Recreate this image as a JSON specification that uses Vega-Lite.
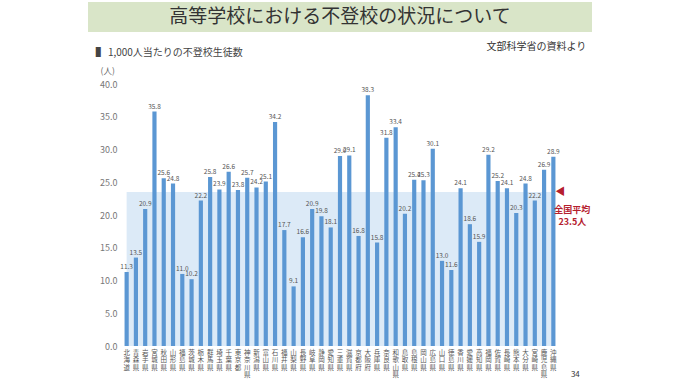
{
"$schema": "https://vega.github.io/schema/vega-lite/v6.json",
"background": "white",
"padding": {"left": 88, "top": 2, "right": 5, "bottom": 2},
"config": {
 "font": "Noto Sans CJK JP",
 "view": {"stroke": null},
 "axisY": {"title": null, "domain": false, "ticks": false, "grid": false, "labelColor": "#777777", "labelFontSize": 9, "labelPadding": 5, "labelOverlap": false, "labelSeparation": 0, "tickCount": 9},
 "axisX": {"title": null, "labelAngle": 0, "labelFontSize": 6.5, "labelLineHeight": 7.6, "labelColor": "#555555", "domain": false, "ticks": false, "labelPadding": 3, "labelBaseline": "top", "labelOverlap": false}
},
"bounds": "flush",
"center": true,
"spacing": 52,
"vconcat": [
{
 "width": 504, "height": 30,
 "view": {"fill": "#d9e5c8", "stroke": null},
 "data": {"values": [{"t": "高等学校における不登校の状況について"}]},
 "mark": {"type": "text", "fontSize": 19, "color": "#333333", "baseline": "middle"},
 "encoding": {"text": {"field": "t"}}
},
{
 "width": 436, "height": 262,
 "data": {"values": [
  {"pref": "北海道", "v": 11.3}, {"pref": "青森県", "v": 13.5}, {"pref": "岩手県", "v": 20.9}, {"pref": "宮城県", "v": 35.8},
  {"pref": "秋田県", "v": 25.6}, {"pref": "山形県", "v": 24.8}, {"pref": "福島県", "v": 11.0}, {"pref": "茨城県", "v": 10.2},
  {"pref": "栃木県", "v": 22.2}, {"pref": "群馬県", "v": 25.8}, {"pref": "埼玉県", "v": 23.9}, {"pref": "千葉県", "v": 26.6},
  {"pref": "東京都", "v": 23.8}, {"pref": "神奈川県", "v": 25.7}, {"pref": "新潟県", "v": 24.2}, {"pref": "富山県", "v": 25.1},
  {"pref": "石川県", "v": 34.2}, {"pref": "福井県", "v": 17.7}, {"pref": "山梨県", "v": 9.1}, {"pref": "長野県", "v": 16.6},
  {"pref": "岐阜県", "v": 20.9}, {"pref": "静岡県", "v": 19.8}, {"pref": "愛知県", "v": 18.1}, {"pref": "三重県", "v": 29.0},
  {"pref": "滋賀県", "v": 29.1}, {"pref": "京都府", "v": 16.8}, {"pref": "大阪府", "v": 38.3}, {"pref": "兵庫県", "v": 15.8},
  {"pref": "奈良県", "v": 31.8}, {"pref": "和歌山県", "v": 33.4}, {"pref": "鳥取県", "v": 20.2}, {"pref": "島根県", "v": 25.4},
  {"pref": "岡山県", "v": 25.3}, {"pref": "広島県", "v": 30.1}, {"pref": "山口県", "v": 13.0}, {"pref": "徳島県", "v": 11.6},
  {"pref": "香川県", "v": 24.1}, {"pref": "愛媛県", "v": 18.6}, {"pref": "高知県", "v": 15.9}, {"pref": "福岡県", "v": 29.2},
  {"pref": "佐賀県", "v": 25.2}, {"pref": "長崎県", "v": 24.1}, {"pref": "熊本県", "v": 20.3}, {"pref": "大分県", "v": 24.8},
  {"pref": "宮崎県", "v": 22.2}, {"pref": "鹿児島県", "v": 26.9}, {"pref": "沖縄県", "v": 28.9}
 ]},
 "layer": [
  {
   "data": {"values": [{"avg": 23.5}]},
   "mark": {"type": "rect", "color": "#dceaf7"},
   "encoding": {
    "x": {"datum": "北海道", "type": "nominal"},
    "x2": {"datum": "沖縄県"},
    "y": {"field": "avg", "type": "quantitative", "axis": {"values": [0, 5, 10, 15, 20, 25, 30, 35, 40], "format": ".1f", "labelOverlap": false, "tickCount": 9}},
    "y2": {"datum": 0}
   }
  },
  {
   "mark": {"type": "bar", "color": "#5b97d3"},
   "encoding": {
    "x": {"field": "pref", "type": "nominal", "sort": null,
     "scale": {"domain": ["北海道","青森県","岩手県","宮城県","秋田県","山形県","福島県","茨城県","栃木県","群馬県","埼玉県","千葉県","東京都","神奈川県","新潟県","富山県","石川県","福井県","山梨県","長野県","岐阜県","静岡県","愛知県","三重県","滋賀県","京都府","大阪府","兵庫県","奈良県","和歌山県","鳥取県","島根県","岡山県","広島県","山口県","徳島県","香川県","愛媛県","高知県","福岡県","佐賀県","長崎県","熊本県","大分県","宮崎県","鹿児島県","沖縄県"], "paddingInner": 0.55, "paddingOuter": 0.275},
     "axis": {"labelExpr": "split(datum.label, '')"}},
    "y": {"field": "v", "type": "quantitative",
     "scale": {"domain": [0, 40], "nice": false},
     "axis": {"values": [0, 5, 10, 15, 20, 25, 30, 35, 40], "format": ".1f", "labelOverlap": false, "tickCount": 9}}
   }
  },
  {
   "mark": {"type": "text", "fontSize": 6.5, "color": "#555555", "baseline": "bottom", "dy": -2},
   "encoding": {
    "x": {"field": "pref", "type": "nominal", "sort": null},
    "y": {"field": "v", "type": "quantitative"},
    "text": {"field": "v", "type": "quantitative", "format": ".1f"}
   }
  },
  {
   "data": {"values": [{"t": "(人)"}]},
   "mark": {"type": "text", "fontSize": 8.5, "color": "#666666", "dx": -19},
   "encoding": {"x": {"datum": "北海道", "type": "nominal"}, "y": {"datum": 42}, "text": {"field": "t"}}
  },
  {
   "data": {"values": [{"t": "▌ 1,000人当たりの不登校生徒数"}]},
   "mark": {"type": "text", "fontSize": 10, "color": "#444444", "align": "left", "dx": -31},
   "encoding": {"x": {"datum": "北海道", "type": "nominal"}, "y": {"datum": 44.8}, "text": {"field": "t"}}
  },
  {
   "data": {"values": [{"t": "文部科学省の資料より"}]},
   "mark": {"type": "text", "fontSize": 10, "color": "#333333", "align": "right", "dx": 33},
   "encoding": {"x": {"datum": "沖縄県", "type": "nominal"}, "y": {"datum": 45.7}, "text": {"field": "t"}}
  },
  {
   "data": {"values": [{"t": "◀"}]},
   "mark": {"type": "text", "fontSize": 10, "color": "#b5202e", "align": "left", "dx": 2},
   "encoding": {"x": {"datum": "沖縄県", "type": "nominal"}, "y": {"datum": 23.5}, "text": {"field": "t"}}
  },
  {
   "data": {"values": [{"t": "全国平均\n23.5人"}]},
   "mark": {"type": "text", "fontSize": 9, "fontWeight": "bold", "color": "#b5202e", "align": "center", "dx": 19, "lineBreak": "\n", "lineHeight": 12},
   "encoding": {"x": {"datum": "沖縄県", "type": "nominal"}, "y": {"datum": 20.7}, "text": {"field": "t"}}
  },
  {
   "data": {"values": [{"t": "34"}]},
   "mark": {"type": "text", "fontSize": 8, "color": "#333333", "dx": 22},
   "encoding": {"x": {"datum": "沖縄県", "type": "nominal"}, "y": {"datum": -4.4}, "text": {"field": "t"}}
  }
 ]
}
]
}
